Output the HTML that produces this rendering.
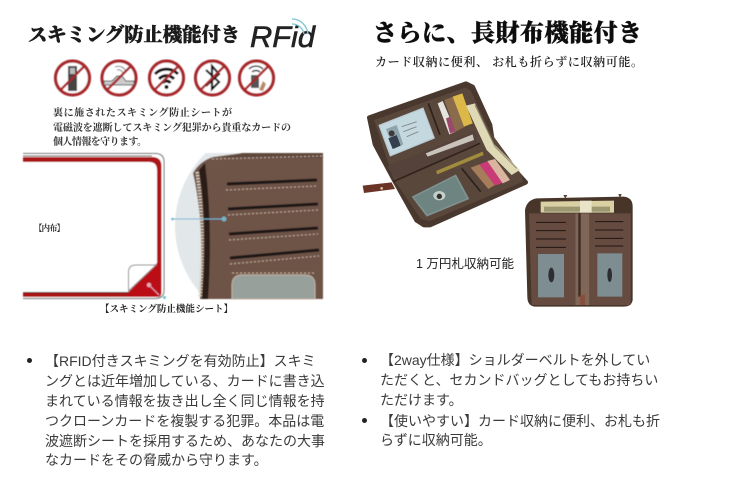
<!DOCTYPE html>
<html lang="ja">
<head>
<meta charset="utf-8">
<title>スキミング防止機能付き</title>
<style>
html,body{margin:0;padding:0;background:#fff;}
body{width:743px;height:493px;overflow:hidden;position:relative;}
svg{position:absolute;left:0;top:0;}
.t{position:absolute;white-space:nowrap;font:14px/20px "Liberation Sans","Noto Sans CJK JP",sans-serif;color:#3a3a3a;}
.b{position:absolute;width:5px;height:5px;border-radius:50%;background:#222;}
</style>
</head>
<body>
<svg width="743" height="493" viewBox="0 0 743 493" xmlns="http://www.w3.org/2000/svg">
<defs>
<filter id="soft" x="-5%" y="-5%" width="110%" height="110%"><feGaussianBlur stdDeviation="0.5"/></filter>
<filter id="txt" x="-5%" y="-20%" width="110%" height="140%"><feGaussianBlur stdDeviation="0.3"/></filter>
<clipPath id="lens"><rect x="170" y="153" width="153" height="146"/></clipPath>
</defs>

<!-- prohibition icons -->
<g filter="url(#soft)">
<g fill="#fff" stroke="#a82529" stroke-width="3.200">
<circle cx="72.500" cy="78" r="17"/><circle cx="119" cy="78" r="17"/><circle cx="166.500" cy="78" r="17"/><circle cx="212.500" cy="78" r="17"/><circle cx="256.500" cy="78" r="17"/>
</g>
<rect x="68" y="66" width="9" height="25" fill="#444"/><rect x="70" y="68" width="5" height="6" fill="#bbb"/>
<path d="M104 81H112L117 76H122L126 81H134V85H104Z" fill="#ccc" stroke="#555" stroke-width="1"/>
<path d="M117 70A5 5 0 0 1 123 73M115 67A8 8 0 0 1 126 72" fill="none" stroke="#777" stroke-width="1"/>
<path d="M155 74A16 16 0 0 1 178 74M159 79A10 10 0 0 1 174 79M162.500 83A5 5 0 0 1 170.500 83" fill="none" stroke="#111" stroke-width="3"/>
<circle cx="166.500" cy="87" r="2" fill="#111"/>
<path d="M206 70L219 82L212 89V66L219 74L206 86" fill="none" stroke="#111" stroke-width="2.200"/>
<path d="M249 69A10 10 0 0 1 263 69M252 72A6 6 0 0 1 260 72" fill="none" stroke="#333" stroke-width="1.500"/>
<rect x="251" y="75" width="8" height="13" fill="#555"/><path d="M259 90L263 81L266 84L263 91Z" fill="#b98a6a"/>
<g stroke="#a82529" stroke-width="2.500">
<path d="M60.500 90L84.500 66M107 90L131 66M154.500 90L178.500 66M200.500 90L224.500 66M244.500 90L268.500 66"/>
</g>
</g>

<!-- card diagram -->
<g filter="url(#soft)">
<path d="M23 153.500H155Q164 153.500 164 162V290Q164 298.500 155 298.500H23" fill="#fff" stroke="#666" stroke-width="1"/>
<path d="M23 157H152Q161.500 157 161.500 166V291Q161.500 297 156 297H23V292.500H129L157 264V170Q157 162 149 162H23Z" fill="#ad1315"/>
<path d="M23 156H152" stroke="#4a2a28" stroke-width="1" fill="none"/>
<path d="M23 292.500H129" stroke="#3a2624" stroke-width="1"/>
<path d="M157 263L128 292.500V297H158Q161.500 297 161.500 292V263Z" fill="#bb1014"/>
<path d="M128.500 291V272Q128.500 265 136 265H156Z" fill="#fff" stroke="#888" stroke-width="1"/>
<circle cx="149" cy="285" r="2.200" fill="#e7a8bb"/><path d="M149 285L159 295" stroke="#e7a8bb" stroke-width="1"/>
<circle cx="164.500" cy="297.500" r="1.500" fill="#63c4c9"/>

<circle cx="277" cy="226" r="102" fill="#e2e7ea" clip-path="url(#lens)"/>
<path d="M193 173Q200 161 213 157L243 153H323V299H200Q205 225 193 173Z" fill="#6e5347"/>
<path d="M243 153H323V158H222Z" fill="#5f463b"/>
<path d="M199 170Q208 225 202 299H208Q213 225 205 163Z" fill="#2a1e19"/>
<path d="M197 172Q205 225 200 297" fill="none" stroke="#d8d0c0" stroke-width="3.500" stroke-dasharray="1.500 1.500"/>
<g stroke="#1c1613" stroke-width="3"><path d="M227 184L317 180"/><path d="M228 209L318 204"/><path d="M229 234L318 228"/><path d="M230 258L319 250"/></g>
<g stroke="#c4b3a3" stroke-width="1" stroke-dasharray="2 2" fill="none"><path d="M226 190L318 186"/><path d="M228 215L318 210"/><path d="M229 240L318 234"/><path d="M230 264L319 256"/><path d="M212 159L323 156"/><path d="M232 273H315"/></g>
<path d="M232 299V285Q232 275 242 275H305Q315 275 315 285V299Z" fill="#98a09c" stroke="#c4b3a3" stroke-width="1"/>
<path d="M172 219H224" stroke="#74b4d4" stroke-width="1"/><circle cx="224" cy="219" r="2.500" fill="#74b4c8"/><circle cx="172.500" cy="219" r="1.300" fill="#74b4c8"/>
</g>

<!-- LEFT PANEL TEXT -->
<g filter="url(#txt)" fill="#1a1a1a" font-family="'Liberation Serif','Noto Serif CJK SC',serif">
<text x="28" y="41" font-size="19" font-weight="900" stroke="#111" stroke-width=".4" textLength="212" lengthAdjust="spacingAndGlyphs">スキミング防止機能付き</text>
<text x="53" y="116" font-size="10" font-weight="700" textLength="179" fill="#333">裏に施されたスキミング防止シートが</text>
<text x="53" y="131" font-size="10" font-weight="700" textLength="238" fill="#333">電磁波を遮断してスキミング犯罪から貴重なカードの</text>
<text x="53" y="145" font-size="10" font-weight="700" textLength="94" fill="#333">個人情報を守ります。</text>
<text x="34" y="231" font-size="8.500" font-weight="700" textLength="31" fill="#333">【内布】</text>
<text x="100" y="312" font-size="9.500" font-weight="700" textLength="133" fill="#222">【スキミング防止機能シート】</text>
</g>
<text x="250" y="47" font-family="'Liberation Sans',sans-serif" font-style="italic" font-size="30" fill="#222" stroke="#222" stroke-width=".6" textLength="65" lengthAdjust="spacingAndGlyphs">RFid</text>
<g fill="none" stroke="#7ec5d2" stroke-width="1.300"><path d="M292 24C298 24 303 28 304 34"/><path d="M292 19C301 19 307 26 308 34"/></g>

<!-- RIGHT PANEL TEXT -->
<g filter="url(#txt)">
<text x="373" y="41" font-family="'Liberation Serif','Noto Serif CJK SC',serif" font-size="24" font-weight="900" stroke="#111" stroke-width=".4" fill="#111" textLength="269" lengthAdjust="spacing">さらに、長財布機能付き</text>
<text x="375" y="66" font-family="'Liberation Serif','Noto Serif CJK SC',serif" font-size="12" font-weight="600" fill="#222" textLength="268">カード収納に便利、 お札も折らずに収納可能。</text>
<text x="416" y="268" font-family="'Liberation Sans','Noto Sans CJK JP',sans-serif" font-size="12.500" fill="#222" textLength="98">1 万円札収納可能</text>
</g>

<!-- wallet 1 -->
<g transform="translate(360 75) scale(.33333)" filter="url(#soft)">
<path d="M8 332L95 322L105 342L12 354Z" fill="#6a3528"/><circle cx="65" cy="340" r="4" fill="#d9c0a8"/>
<path d="M28 128L318 26L338 36L390 150L400 215L497 322L210 450L192 450L170 436L105 320L45 208Z" fill="#4a372e" stroke="#4a372e" stroke-width="14" stroke-linejoin="round"/>
<path d="M42 135L316 38L332 46L392 172L478 290L490 320L210 438L182 432L100 310Z" fill="#5a463b"/>
<path d="M80 275L345 168L352 205L112 312Z" fill="#55423a"/>
<path d="M205 85L240 180" stroke="#2e221c" stroke-width="5"/>
<path d="M55 150L190 97L225 190L90 245Z" fill="#b9cbd3"/>
<path d="M60 153L188 102L220 187L93 240Z" fill="#c3d8df"/>
<path d="M78 162L110 150L130 208L102 222Z" fill="#8fa5ad"/><circle cx="95" cy="175" r="9" fill="#3f3a38"/><path d="M85 190L110 180L122 212L98 222Z" fill="#354050"/>
<path d="M125 155L170 140M130 170L170 155M140 185L175 170" stroke="#8a8a88" stroke-width="3"/>
<path d="M233 85L248 78L287 170L268 178Z" fill="#e7e3dd"/><path d="M258 130L272 125L287 170L270 175Z" fill="#9a4a6a"/>
<path d="M253 75L280 65L315 155L287 170Z" fill="#8a6c4e"/>
<path d="M278 65L307 55L338 145L312 155Z" fill="#dcb84a"/>
<path d="M318 92L345 85L400 205L480 285L455 300L380 225Z" fill="#e0d9b6"/>
<path d="M345 90L405 215L470 280" fill="none" stroke="#8f8a70" stroke-width="3"/>
<path d="M197 235L338 178L342 195L203 245Z" fill="#c9c4bb"/>
<path d="M228 288L368 230L371 240L232 298Z" fill="#a08c3c"/>
<path d="M100 320L360 205" stroke="#30241e" stroke-width="5"/>
<path d="M305 280L362 350" stroke="#2e221c" stroke-width="5"/>
<path d="M332 278L358 268L405 330L385 342Z" fill="#a67c5a"/>
<path d="M358 268L385 258L432 322L405 332Z" fill="#c93a76"/>
<path d="M382 258L405 252L450 315L428 325Z" fill="#d9b5a0"/>
<path d="M155 365L288 298L328 372L200 425Z" fill="#7d918f"/>
<path d="M162 367L285 305L320 370L202 418Z" fill="#6d8481"/>
<ellipse cx="238" cy="362" rx="18" ry="14" fill="#c7cfcb"/><ellipse cx="238" cy="364" rx="8" ry="8" fill="#333"/>
</g>

<!-- wallet 2 -->
<g transform="translate(390 180) scale(.33333)" filter="url(#soft)">
<path d="M405 90Q410 60 440 55L700 50Q728 52 728 80V360Q725 380 700 380H435Q412 378 412 350Z" fill="#46342b"/>
<path d="M452 65L672 62V98H452Z" fill="#d9d0a4"/><path d="M462 80H660V95H462Z" fill="#9c9770"/>
<path d="M570 62H605V98H570Z" fill="#e9e4c8"/>
<path d="M417 100H556V375H425Z" fill="#654b3f"/>
<path d="M598 100H722V375H598Z" fill="#654b3f"/>
<path d="M556 100H598V375H556Z" fill="#7f6656"/>
<path d="M565 100H572V350H565Z" fill="#3d2c24"/>
<g stroke="#231915" stroke-width="3"><path d="M438 127H528M438 152H528M438 177H528M438 202H528M615 125H700M615 150H700M615 175H700M615 198H700"/></g>
<path d="M444 222H522V352H444Z" fill="#7d8d92"/><path d="M622 220H697V350H622Z" fill="#7d8d92"/>
<ellipse cx="484" cy="285" rx="9" ry="22" fill="#2f2f30"/><ellipse cx="659" cy="285" rx="7" ry="21" fill="#2f2f30"/>
<path d="M570 345H585V375H570Z" fill="#86503a"/>
<path d="M685 42L695 42L690 55Z" fill="#5a4335"/>
<path d="M520 45L532 45L526 56Z" fill="#5a4335"/>
</g>
</svg>

<!-- BULLET LISTS -->
<span class="b" style="left:27px;top:358px"></span>
<div class="t" style="left:45px;top:351px">【RFID付きスキミングを有効防止】スキミ</div>
<div class="t" style="left:45px;top:371px">ングとは近年増加している、カードに書き込</div>
<div class="t" style="left:45px;top:391px">まれている情報を抜き出し全く同じ情報を持</div>
<div class="t" style="left:45px;top:411px">つクローンカードを複製する犯罪。本品は電</div>
<div class="t" style="left:45px;top:431px">波遮断シートを採用するため、あなたの大事</div>
<div class="t" style="left:45px;top:450px">なカードをその脅威から守ります。</div>

<span class="b" style="left:362px;top:358px"></span>
<div class="t" style="left:380px;top:350px">【2way仕様】ショルダーベルトを外してい</div>
<div class="t" style="left:380px;top:370px">ただくと、セカンドバッグとしてもお持ちい</div>
<div class="t" style="left:380px;top:390px">ただけます。</div>
<span class="b" style="left:362px;top:418px"></span>
<div class="t" style="left:380px;top:411px">【使いやすい】カード収納に便利、お札も折</div>
<div class="t" style="left:380px;top:430px">らずに収納可能。</div>
</body>
</html>
